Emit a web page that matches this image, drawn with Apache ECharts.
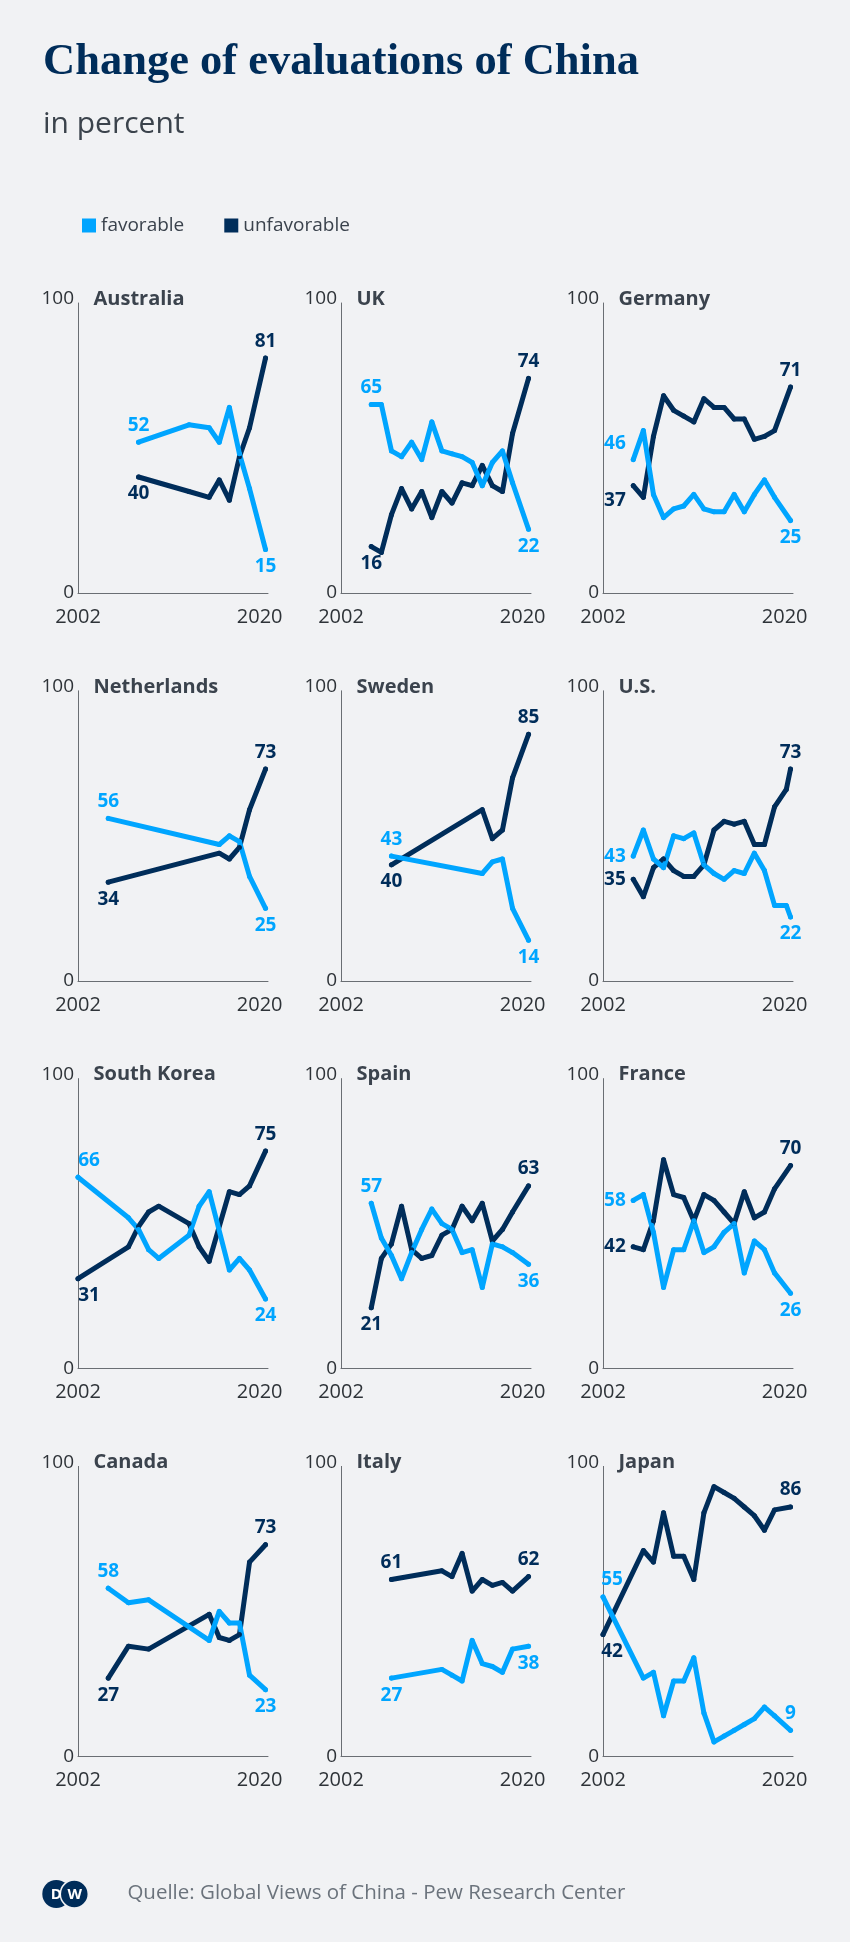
<!DOCTYPE html>
<html><head><meta charset="utf-8">
<script src="https://cdn.jsdelivr.net/npm/echarts@6/dist/echarts.min.js"></script>
<style>html,body{margin:0;padding:0;background:#f1f2f4;}#c{width:850px;height:1942px;}</style>
</head><body><div id="c"></div>
<script>
// ---- data (survey dates, percent) ----
const countryNames = ['Australia','UK','Germany','Netherlands','Sweden','U.S.','South Korea','Spain','France','Canada','Italy','Japan'];
const seriesNames = ['favorable','unfavorable'];
const xTickLabels = [2002, 2020];
const yTickLabels = [0, 100];

const australiaYears = ['2008','2013','2015','2016','2017','2018','2019','2020-08'];
const australiaFav   = [52,58,57,52,64,48,36,15];
const australiaUnfav = [40,35,33,39,32,47,57,81];

const ukYears = ['2005','2006','2007','2008','2009','2010','2011','2012','2013','2014','2015','2016','2017','2018','2019','2020-08'];
const ukFav   = [65,65,49,47,52,46,59,49,48,47,45,37,45,49,38,22];
const ukUnfav = [16,14,27,36,29,35,26,35,31,38,37,44,37,35,55,74];

const germanyYears = ['2005','2006','2007','2008','2009','2010','2011','2012','2013','2014','2015','2016','2017','2018','2019','2020-08'];
const germanyFav   = [46,56,34,26,29,30,34,29,28,28,34,28,34,39,33,25];
const germanyUnfav = [37,33,54,68,63,61,59,67,64,64,60,60,53,54,56,71];

const netherlandsYears = ['2005','2016','2017','2018','2019','2020-08'];
const netherlandsFav   = [56,47,50,48,36,25];
const netherlandsUnfav = [34,44,42,46,59,73];

const swedenYears = ['2007','2016','2017','2018','2019','2020-08'];
const swedenFav   = [43,37,41,42,25,14];
const swedenUnfav = [40,59,49,52,70,85];

const usYears = ['2005','2006','2007','2008','2009','2010','2011','2012','2013','2014','2015','2016','2017','2018','2019','2020-03','2020-08'];
const usFav   = [43,52,42,39,50,49,51,40,37,35,38,37,44,38,26,26,22];
const usUnfav = [35,29,39,42,38,36,36,40,52,55,54,55,47,47,60,66,73];

const southKoreaYears = ['2002','2007','2008','2009','2010','2013','2014','2015','2017','2018','2019','2020-08'];
const southKoreaFav   = [66,52,48,41,38,46,56,61,34,38,34,24];
const southKoreaUnfav = [31,42,49,54,56,50,42,37,61,60,63,75];

const spainYears = ['2005','2006','2007','2008','2009','2010','2011','2012','2013','2014','2015','2016','2017','2018','2019','2020-08'];
const spainFav   = [57,45,39,31,40,48,55,50,48,40,41,28,43,42,40,36];
const spainUnfav = [21,38,43,56,41,38,39,46,48,56,51,57,44,48,54,63];

const franceYears = ['2005','2006','2007','2008','2009','2010','2011','2012','2013','2014','2015','2016','2017','2018','2019','2020-08'];
const franceFav   = [58,60,47,28,41,41,51,40,42,47,50,33,44,41,33,26];
const franceUnfav = [42,41,51,72,60,59,51,60,58,54,50,61,52,54,62,70];

const canadaYears = ['2005','2007','2009','2015','2016','2017','2018','2019','2020-08'];
const canadaFav   = [58,53,54,40,50,46,46,28,23];
const canadaUnfav = [27,38,37,49,41,40,42,67,73];

const italyYears = ['2007','2012','2013','2014','2015','2016','2017','2018','2019','2020-08'];
const italyFav   = [27,30,28,26,40,32,31,29,37,38];
const italyUnfav = [61,64,62,70,57,61,59,60,57,62];

const japanYears = ['2002','2006','2007','2008','2009','2010','2011','2012','2013','2014','2015','2016','2017','2018','2019','2020-08'];
const japanFav   = [55,27,29,14,26,26,34,15,5,7,9,11,13,17,14,9];
const japanUnfav = [42,71,67,84,69,69,61,84,93,91,89,86,83,78,85,86];

// ---- styling / layout ----
const FAV = '#00a5ff', UNFAV = '#002d5a';
const BG = '#f1f2f4';
const FONT = '"Open Sans", "Noto Sans", sans-serif';
const COL_LEFT = [78, 341, 603];
const ROW_TOP = 303, ROW_STEP = 387.8, PLOT_W = 190, PLOT_H = 290;
const X_MIN = 2002, X_MAX = 2020.83;
const LINE_W = 5;

const panels = [
  [australiaYears, australiaFav, australiaUnfav],
  [ukYears, ukFav, ukUnfav],
  [germanyYears, germanyFav, germanyUnfav],
  [netherlandsYears, netherlandsFav, netherlandsUnfav],
  [swedenYears, swedenFav, swedenUnfav],
  [usYears, usFav, usUnfav],
  [southKoreaYears, southKoreaFav, southKoreaUnfav],
  [spainYears, spainFav, spainUnfav],
  [franceYears, franceFav, franceUnfav],
  [canadaYears, canadaFav, canadaUnfav],
  [italyYears, italyFav, italyUnfav],
  [japanYears, japanFav, japanUnfav]
];

// label placement for [first, last] point of each series (style only)
const labelPlace = {
  'Germany': {favStart:{position:'left', offset:[0,-16]}, unfavStart:{position:'left', offset:[0,15]}},
  'U.S.': {favStart:{position:'left'}, unfavStart:{position:'left'}},
  'France': {favStart:{position:'left'}, unfavStart:{position:'left'}},
  'South Korea': {favStart:{position:'top', offset:[11,0]}, unfavStart:{position:'bottom', offset:[11,0]}},
  'Japan': {favStart:{position:'top', offset:[9,0]}, unfavStart:{position:'bottom', offset:[9,0]}, favEnd:{position:'top'}}
};

function toYear(s){ const p = s.split('-'); return +p[0] + (p[1] ? (+p[1]-1)/12 : 0); }

const grids = [], xAxes = [], yAxes = [], series = [], graphics = [];
const AXIS_TXT = '#2e3338';

countryNames.forEach((name, i) => {
  const r = Math.floor(i/3), c = i % 3;
  const left = COL_LEFT[c], top = ROW_TOP + r*ROW_STEP;
  const [years, fav, unfav] = panels[i];
  grids.push({left: left, top: top, width: PLOT_W, height: PLOT_H});
  xAxes.push({
    gridIndex: i, type: 'value', min: X_MIN, max: X_MAX, interval: 1,
    axisLine: {show: true, onZero: false, lineStyle: {color: '#6a6e73', width: 1}},
    axisTick: {show: false}, splitLine: {show: false},
    axisLabel: {margin: 14, fontSize: 20, color: AXIS_TXT, fontFamily: FONT,
      formatter: v => xTickLabels.indexOf(Math.round(v)) >= 0 && Math.abs(v - Math.round(v)) < 1e-6 ? String(Math.round(v)) : ''}
  });
  yAxes.push({
    gridIndex: i, type: 'value', min: 0, max: 100, interval: 100,
    axisLine: {show: true, onZero: false, lineStyle: {color: '#6a6e73', width: 1}},
    axisTick: {show: false}, splitLine: {show: false},
    axisLabel: {margin: 4, fontSize: 19, color: AXIS_TXT, fontFamily: FONT,
      formatter: v => v === yTickLabels[1] ? '{t|' + v + '}' : String(v),
      rich: {t: {padding: [0,0,8,0], fontSize: 19, color: AXIS_TXT, fontFamily: FONT}}}
  });
  const place = labelPlace[name] || {};
  const mk = (vals, color, sname, key) => {
    const last = vals.length - 1;
    const data = years.map((y, k) => {
      const item = {value: [toYear(y), vals[k]]};
      if (k === 0 || k === last) {
        const other = key === 'fav' ? unfav : fav;
        const isHigher = vals[k] >= other[k];
        const spec = place[key + (k === 0 ? 'Start' : 'End')] || {position: isHigher ? 'top' : 'bottom'};
        item.label = Object.assign({show: true, distance: 5}, spec);
      }
      return item;
    });
    return {
      type: 'line', name: sname, xAxisIndex: i, yAxisIndex: i, data: data,
      symbol: 'circle', symbolSize: LINE_W, showSymbol: true,
      itemStyle: {color: color},
      lineStyle: {color: color, width: LINE_W, cap: 'round', join: 'round'},
      label: {show: false, fontSize: 19, fontWeight: 'bold', color: color, fontFamily: FONT,
              formatter: p => String(p.value[1])},
      emphasis: {disabled: true}, silent: true, animation: false
    };
  };
  series.push(mk(unfav, UNFAV, seriesNames[1], 'unfav'));
  series.push(mk(fav, FAV, seriesNames[0], 'fav'));
  graphics.push({type: 'text', silent: true, style: {text: name, x: left + 15.5, y: top - 4,
    font: 'bold 20px ' + FONT, fill: '#3b434d', verticalAlign: 'middle'}});
});

graphics.push(
  {type: 'text', silent: true, style: {text: 'Change of evaluations of China', x: 43, y: 62,
    font: 'bold 44.5px "Liberation Serif", serif', fill: UNFAV, verticalAlign: 'middle'}},
  {type: 'text', silent: true, style: {text: 'in percent', x: 43, y: 124,
    font: '30px ' + FONT, fill: '#3b434c', verticalAlign: 'middle'}},
  {type: 'circle', silent: true, shape: {cx: 56.3, cy: 1894, r: 14}, style: {fill: UNFAV}},
  {type: 'circle', silent: true, shape: {cx: 74.3, cy: 1894, r: 14}, style: {fill: UNFAV, stroke: BG, lineWidth: 1.5}},
  {type: 'text', silent: true, style: {text: 'D', x: 56.3, y: 1894.5, font: 'bold 15px ' + FONT, fill: '#ffffff', align: 'center', verticalAlign: 'middle'}},
  {type: 'text', silent: true, style: {text: 'W', x: 74.8, y: 1894.5, font: 'bold 15px ' + FONT, fill: '#ffffff', align: 'center', verticalAlign: 'middle'}},
  {type: 'text', silent: true, style: {text: 'Quelle: Global Views of China - Pew Research Center', x: 127.4, y: 1893,
    font: '20.5px ' + FONT, fill: '#6b737c', verticalAlign: 'middle'}}
);

const chart = echarts.init(document.getElementById('c'), null, {renderer: 'canvas', width: 850, height: 1942});
chart.setOption({
  backgroundColor: BG,
  animation: false,
  legend: {data: seriesNames, left: 77, top: 211, itemWidth: 14, itemHeight: 14, itemGap: 40, icon: 'rect',
    selectedMode: false, textStyle: {fontSize: 19, color: '#3a424c', fontFamily: FONT}},
  grid: grids, xAxis: xAxes, yAxis: yAxes, series: series, graphic: graphics
});
</script></body></html>
